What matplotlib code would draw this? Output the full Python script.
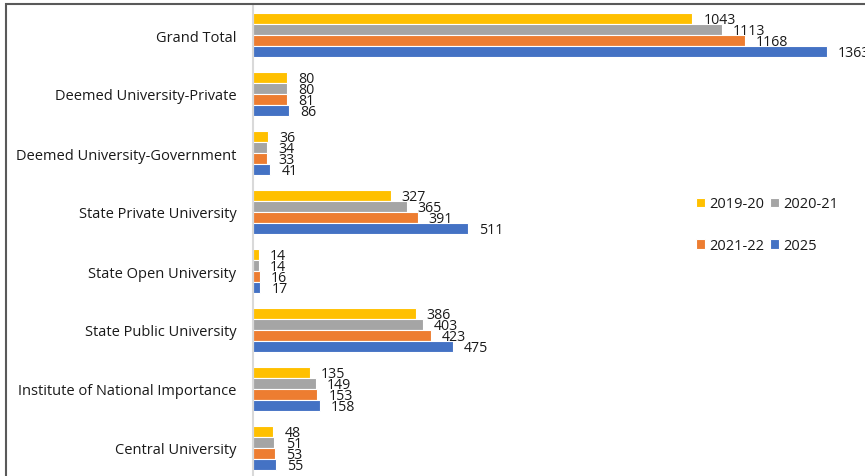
import numpy as np
import matplotlib.pyplot as plt
from matplotlib.patches import Rectangle

# university counts by type
categories = ['Grand Total', 'Deemed University-Private', 'Deemed University-Government',
              'State Private University', 'State Open University', 'State Public University',
              'Institute of National Importance', 'Central University']
years = ['2019-20', '2020-21', '2021-22', '2025']
v_2019_20 = [1043, 80, 36, 327, 14, 386, 135, 48]
v_2020_21 = [1113, 80, 34, 365, 14, 403, 149, 51]
v_2021_22 = [1168, 81, 33, 391, 16, 423, 153, 53]
v_2025 = [1363, 86, 41, 511, 17, 475, 158, 55]
series = [v_2019_20, v_2020_21, v_2021_22, v_2025]
colors = ['#FFC000', '#A5A5A5', '#ED7D31', '#4472C4']

plt.rcParams['font.family'] = ['Open Sans', 'DejaVu Sans']
text_color = '#1a1a1a'

W, H = 865, 477
fig = plt.figure(figsize=(W / 100, H / 100), dpi=100)
# axes: left edge at x=253px, top at y=5px, running to the bottom/right edges
ax = fig.add_axes([253 / W, 0, 1 - 253 / W, 1 - 5 / H])

pitch = 59.0
bar_h = 11 / pitch
y = np.arange(len(categories))
handles = []
for k, (vals, c, lab) in enumerate(zip(series, colors, years)):
    pos = y + (k - 1.5) * bar_h
    bars = ax.barh(pos, vals, height=bar_h, color=c, edgecolor='white',
                   linewidth=0.8, label=lab)
    handles.append(bars)
    for b, v in zip(bars, vals):
        ax.annotate(str(v), (v, b.get_y() + b.get_height() / 2),
                    xytext=(8, -0.5), textcoords='offset points',
                    ha='left', va='center', fontsize=10.2, color=text_color)

ax.set_xlim(0, (W - 253) / 0.421)
ax.set_ylim((477 - 36) / pitch, (5 - 36) / pitch)
ax.set_yticks(y)
ax.set_yticklabels(categories, fontsize=10.5, color=text_color)
ax.tick_params(axis='y', length=0, pad=12)
ax.set_xticks([])
for s in ['top', 'right', 'bottom']:
    ax.spines[s].set_visible(False)
ax.spines['left'].set_color('#d9d9d9')
ax.spines['left'].set_linewidth(1.5)

# legend laid out row by row: 2019-20, 2020-21 / 2021-22, 2025
order = [0, 2, 1, 3]
leg = ax.legend([handles[i] for i in order], [years[i] for i in order],
                ncol=2, loc='upper left', bbox_to_anchor=(0.714, 0.605),
                frameon=False, fontsize=10.5, handlelength=0.6, handleheight=0.6,
                handletextpad=0.3, columnspacing=0.4, labelspacing=1.85,
                borderaxespad=0)
for t in leg.get_texts():
    t.set_color(text_color)

# outer chart border
fig.patches.append(Rectangle((6 / W, -0.1), 1.2, 1 - 5 / H + 0.1,
                             transform=fig.transFigure, fill=False,
                             edgecolor='#595959', linewidth=1.5))

fig.savefig('out.png', dpi=100)
